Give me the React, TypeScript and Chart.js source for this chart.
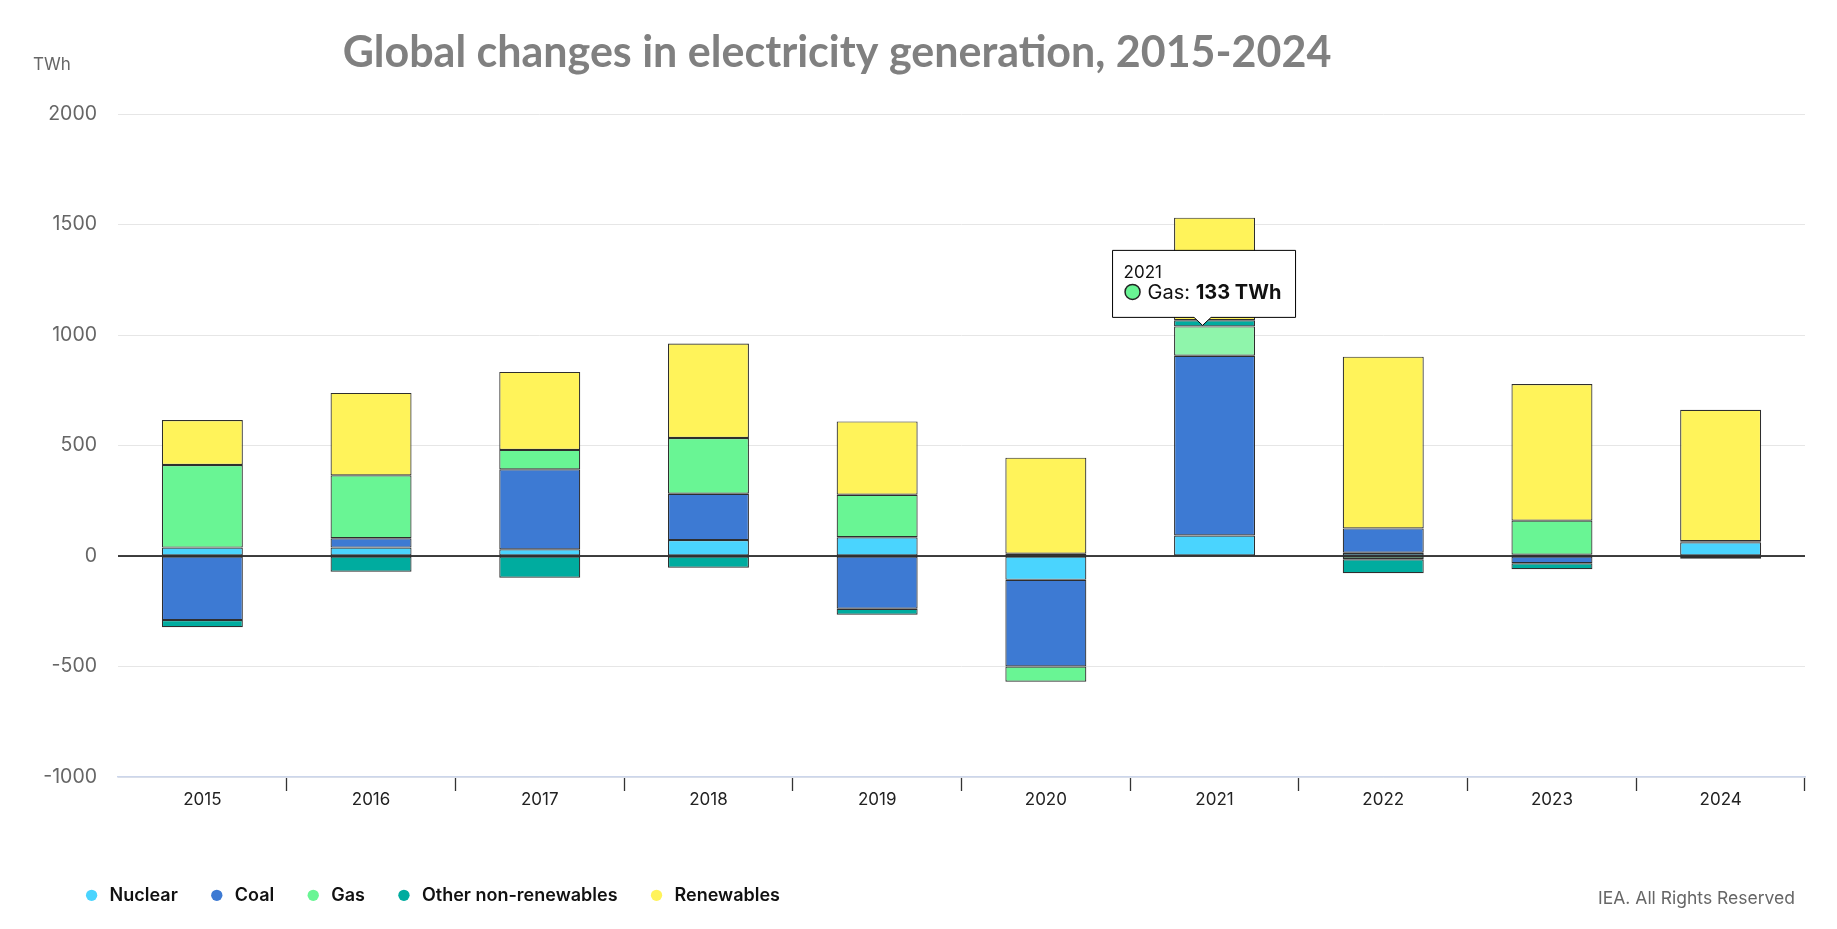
import React, { useEffect, useRef } from 'react';
import { Chart, registerables } from 'chart.js';

Chart.register(...registerables);

// ---- Data (TWh change, year on year) ----
const categories = ['2015', '2016', '2017', '2018', '2019', '2020', '2021', '2022', '2023', '2024'];
const nuclear = [38, 38, 30, 72, 85, -108, 93, 15, 6, 62];
const coal = [-290, 42, 362, 210, -239, -392, 813, 110, -33, 5];
const gas = [374, 285, 88, 252, 192, -69, 133, -15, 154, 0];
const otherNonRenewables = [-32, -71, -98, -53, -27, 10, 28, -63, -27, -12];
const renewables = [203, 373, 353, 427, 332, 435, 464, 777, 618, 595];
const yTicks = [-1000, -500, 0, 500, 1000, 1500, 2000];

const seriesNames = ['Nuclear', 'Coal', 'Gas', 'Other non-renewables', 'Renewables'];
const seriesColors = ['#4ad4fe', '#3d7ad3', '#69f594', '#00ac9f', '#fff35a'];
const seriesData = [nuclear, coal, gas, otherNonRenewables, renewables];

const titleText = 'Global changes in electricity generation, 2015-2024';
const unitText = 'TWh';
const creditText = 'IEA. All Rights Reserved';

// highlighted point (shown tooltip)
const HOVER_DATASET = 2;
const HOVER_INDEX = 6;
const HOVER_COLOR = '#8ff5ab';

const LEGEND_SHIFT = 30;

const legendShiftPlugin = {
  id: 'legendShift',
  afterLayout(chart: any) {
    if (chart.legend) {
      chart.legend.left += LEGEND_SHIFT;
    }
  },
};

const textPlugin = {
  id: 'texts',
  afterDraw(chart: any) {
    const { ctx, chartArea } = chart;
    ctx.save();
    ctx.fillStyle = '#808080';
    ctx.font = 'bold 43px Lato';
    ctx.textAlign = 'center';
    ctx.textBaseline = 'alphabetic';
    ctx.fillText(titleText, 829, 59);

    ctx.fillStyle = '#666666';
    ctx.font = '17px Inter';
    ctx.textAlign = 'left';
    ctx.textBaseline = 'middle';
    ctx.fillText(unitText, 25, 57);

    ctx.font = '17.5px Inter';
    ctx.textAlign = 'right';
    ctx.fillText(creditText, chartArea.right - 10, 891);
    ctx.restore();
  },
};

const zeroLinePlugin = {
  id: 'zeroLine',
  afterDatasetsDraw(chart: any) {
    const { ctx, chartArea, scales } = chart;
    const y = scales.y.getPixelForValue(0);
    ctx.save();
    ctx.strokeStyle = '#000000';
    ctx.lineWidth = 1.5;
    ctx.beginPath();
    ctx.moveTo(chartArea.left, y);
    ctx.lineTo(chartArea.right, y);
    ctx.stroke();
    ctx.restore();
  },
};

const fixedTooltipPlugin = {
  id: 'fixedTooltip',
  afterDraw(chart: any) {
    const { ctx } = chart;
    const meta = chart.getDatasetMeta(HOVER_DATASET);
    const el = meta.data[HOVER_INDEX];
    if (!el) return;
    const tipX = el.x - 12;
    const tipY = el.y - 1;
    const w = 183;
    const h = 67;
    const caretH = 8;
    const caretW = 8.5;
    const left = tipX - 90;
    const bottom = tipY - caretH;
    const top = bottom - h;
    ctx.save();
    ctx.beginPath();
    ctx.moveTo(left, top);
    ctx.lineTo(left + w, top);
    ctx.lineTo(left + w, bottom);
    ctx.lineTo(tipX + caretW, bottom);
    ctx.lineTo(tipX, tipY);
    ctx.lineTo(tipX - caretW, bottom);
    ctx.lineTo(left, bottom);
    ctx.closePath();
    ctx.fillStyle = '#ffffff';
    ctx.fill();
    ctx.strokeStyle = '#000000';
    ctx.lineWidth = 1;
    ctx.stroke();

    ctx.fillStyle = '#111111';
    ctx.textAlign = 'left';
    ctx.textBaseline = 'alphabetic';
    ctx.font = '17px Inter';
    ctx.fillText(categories[HOVER_INDEX], left + 11, top + 28);

    ctx.beginPath();
    ctx.arc(left + 20, top + 41.5, 7.5, 0, Math.PI * 2);
    ctx.fillStyle = seriesColors[HOVER_DATASET];
    ctx.fill();
    ctx.strokeStyle = '#222222';
    ctx.lineWidth = 1.5;
    ctx.stroke();

    ctx.fillStyle = '#111111';
    ctx.font = '20px Inter';
    const label = seriesNames[HOVER_DATASET] + ': ';
    ctx.fillText(label, left + 35, top + 49);
    const lw = ctx.measureText(label).width;
    ctx.font = 'bold 20px Inter';
    ctx.fillText(String(seriesData[HOVER_DATASET][HOVER_INDEX]) + ' TWh', left + 35 + lw, top + 49);
    ctx.restore();
  },
};

export default function App() {
  const canvasRef = useRef<HTMLCanvasElement | null>(null);

  useEffect(() => {
    if (!canvasRef.current) return;
    const datasets = seriesNames.map((name, i) => ({
      label: name,
      data: seriesData[i],
      backgroundColor:
        i === HOVER_DATASET
          ? (c: any) => (c.dataIndex === HOVER_INDEX ? HOVER_COLOR : seriesColors[i])
          : seriesColors[i],
      borderColor: '#2e2e2e',
      borderWidth: 1.2,
      borderSkipped: false as const,
      categoryPercentage: 0.48,
      barPercentage: 1,
    }));

    const chart = new Chart(canvasRef.current, {
      type: 'bar',
      data: { labels: categories, datasets },
      plugins: [legendShiftPlugin, zeroLinePlugin, textPlugin, fixedTooltipPlugin],
      options: {
        animation: false,
        responsive: true,
        maintainAspectRatio: false,
        events: [],
        layout: { padding: { top: 106, left: 14.6, right: 24, bottom: 6.7 } },
        plugins: {
          title: { display: false },
          tooltip: { enabled: false },
          legend: {
            position: 'bottom',
            align: 'start',
            labels: {
              usePointStyle: true,
              pointStyle: 'circle',
              boxWidth: 18,
              boxHeight: 8,
              padding: 30,
              color: '#111111',
              font: { family: 'Inter', size: 18, weight: 600 },
              generateLabels: (ch: any) =>
                Chart.defaults.plugins.legend.labels.generateLabels(ch).map((l: any, i: number) => ({
                  ...l,
                  fillStyle: seriesColors[i],
                  strokeStyle: seriesColors[i],
                  lineWidth: 0,
                })),
            },
          },
        },
        scales: {
          x: {
            stacked: true,
            grid: {
              offset: true,
              drawOnChartArea: false,
              drawTicks: true,
              tickLength: 14,
              tickWidth: 1.3,
              tickColor: (c: any) => (c.index === 0 ? 'rgba(0,0,0,0)' : '#333333'),
            },
            border: { display: true, color: '#ccd6eb', width: 1.5 },
            ticks: {
              color: '#222222',
              font: { family: 'Inter', size: 17 },
              padding: -1,
              maxRotation: 0,
            },
            afterFit: (s: any) => {
              s.height = 79.3;
            },
          },
          y: {
            stacked: true,
            min: yTicks[0],
            max: yTicks[yTicks.length - 1],
            afterBuildTicks: (s: any) => {
              s.ticks = yTicks.map((v) => ({ value: v }));
            },
            grid: { color: '#e6e6e6', drawTicks: false, lineWidth: 1 },
            border: { display: false },
            ticks: {
              color: '#666666',
              font: { family: 'Inter', size: 19.5 },
              padding: 21,
              callback: (v: any) => String(v),
            },
            afterFit: (s: any) => {
              s.width = 95.4;
            },
          },
        },
      },
    });
    return () => chart.destroy();
  }, []);

  return (
    <div style={{ width: '1821px', height: '913px', position: 'relative' }}>
      <canvas ref={canvasRef} />
    </div>
  );
}
